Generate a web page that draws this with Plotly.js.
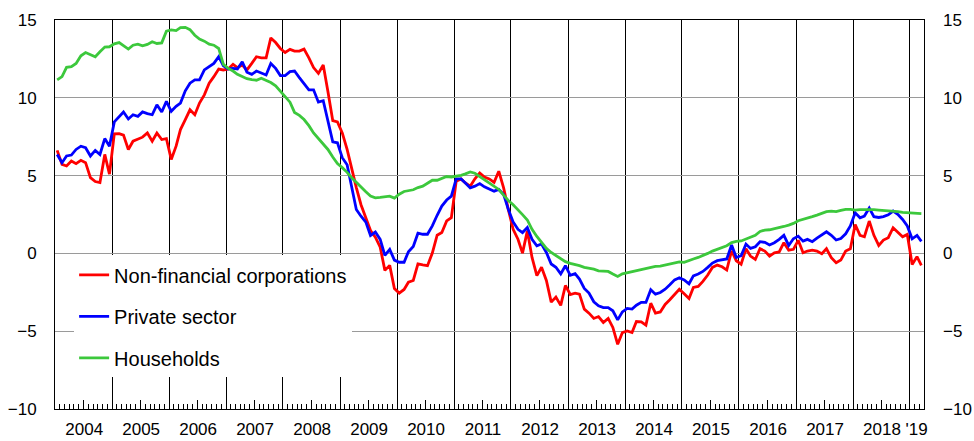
<!DOCTYPE html>
<html>
<head>
<meta charset="utf-8">
<script src="https://cdn.plot.ly/plotly-3.0.1.min.js"></script>
<style>html,body{margin:0;padding:0;background:#fff;}#chart{width:974px;height:441px;}</style>
</head>
<body>
<div id="chart"></div>
<script>
// Monthly data, Jan 2004 - Mar 2019 (percent, twelve-month growth)
const startYear = 2004;
const nonFinancial = [
  6.62, 5.72, 5.62, 5.94, 5.77, 5.98, 5.83, 4.87, 4.62, 4.55, 6.36, 5.09,
  7.68, 7.70, 7.60, 6.68, 7.21, 7.32, 7.47, 7.74, 7.21, 7.74, 7.32, 7.38,
  6.04, 6.89, 7.96, 8.60, 9.23, 8.91, 9.66, 10.19, 10.94, 11.36, 11.85, 11.79,
  11.85, 12.15, 11.94, 12.11, 11.79, 12.21, 12.64, 12.57, 12.57, 13.85, 13.55, 13.17,
  12.91, 13.11, 13.00, 13.00, 13.13, 12.57, 11.94, 11.57, 12.11, 10.40, 8.53, 8.45,
  7.74, 6.68, 5.47, 4.23, 3.13, 2.21, 1.47, 1.04, 0.40, -1.09, -0.77, -2.26,
  -2.55, -2.32, -1.85, -1.74, -0.68, -0.74, -0.79, 0.02, 1.17, 1.34, 2.09, 2.30,
  4.64, 4.79, 4.53, 4.32, 4.79, 5.17, 4.91, 4.79, 4.57, 5.28, 4.21, 2.83,
  1.55, 0.91, 0.02, 1.45, -0.26, -1.43, -0.89, -1.74, -3.13, -2.81, -3.34, -2.06,
  -2.64, -2.55, -2.62, -3.58, -3.84, -4.18, -4.06, -4.44, -4.18, -4.76, -5.84, -5.09,
  -4.98, -5.09, -4.38, -4.40, -4.61, -3.20, -3.84, -3.76, -3.28, -2.98, -2.62, -2.30,
  -2.60, -2.90, -2.19, -2.12, -1.80, -1.39, -0.90, -0.75, -0.86, -1.07, 0.17, -0.47,
  -0.70, 0.30, -0.17, -0.39, 0.30, 0.15, -0.17, 0.04, 0.09, 0.69, 0.21, 0.26,
  0.84, 0.04, 0.15, 0.21, 0.15, -0.02, 0.30, -0.28, -0.60, -0.43, 0.15, 0.30,
  1.86, 1.16, 1.07, 2.08, 1.16, 0.51, 0.86, 1.01, 1.65, 1.37, 1.07, 1.22,
  -0.71, -0.21, -0.77
];
const privateSector = [
  6.36, 5.83, 6.26, 6.32, 6.68, 6.89, 6.79, 6.26, 6.62, 6.36, 7.38, 6.89,
  8.45, 8.81, 9.09, 8.64, 8.91, 8.81, 9.09, 8.98, 8.91, 9.55, 9.09, 9.77,
  9.13, 9.45, 9.66, 10.45, 10.94, 11.15, 11.15, 11.79, 12.00, 12.21, 12.64, 12.06,
  11.85, 11.89, 11.85, 12.32, 11.64, 11.51, 11.72, 11.57, 11.47, 12.21, 11.89, 11.43,
  11.43, 11.68, 11.72, 11.30, 10.94, 10.51, 10.51, 9.72, 9.81, 8.49, 7.17, 7.11,
  6.15, 5.70, 4.42, 2.82, 2.39, 2.01, 1.15, 1.37, 0.90, -0.13, 0.26, -0.43,
  -0.57, -0.57, 0.11, 0.45, 1.30, 1.23, 1.23, 1.77, 2.45, 3.04, 3.43, 3.68,
  4.79, 4.79, 4.53, 4.21, 4.32, 4.49, 4.28, 4.15, 4.00, 4.11, 3.79, 2.83,
  2.02, 1.55, 1.34, 1.66, 0.91, 0.49, 0.60, 0.06, -0.68, -0.89, -1.32, -0.79,
  -1.41, -1.30, -1.65, -2.25, -2.55, -3.11, -3.37, -3.48, -3.48, -3.69, -4.27, -3.76,
  -3.54, -3.58, -3.33, -3.15, -3.15, -2.34, -2.62, -2.51, -2.30, -2.02, -1.70, -1.57,
  -1.70, -1.95, -1.44, -1.33, -1.16, -0.90, -0.62, -0.47, -0.41, -0.36, 0.54, -0.26,
  -0.15, 0.60, 0.32, 0.43, 0.75, 0.71, 0.54, 0.69, 0.90, 1.16, 0.51, 0.94,
  1.11, 0.79, 0.90, 0.75, 0.98, 1.18, 1.39, 1.16, 0.86, 0.96, 1.26, 1.76,
  2.61, 2.29, 2.40, 2.91, 2.36, 2.31, 2.36, 2.48, 2.72, 2.51, 2.18, 1.76,
  0.94, 1.16, 0.77
];
const households = [
  11.15, 11.36, 11.96, 12.00, 12.21, 12.70, 12.91, 12.79, 12.64, 12.96, 13.26, 13.28,
  13.47, 13.55, 13.34, 13.13, 13.38, 13.45, 13.34, 13.43, 13.60, 13.49, 13.53, 14.28,
  14.36, 14.32, 14.51, 14.53, 14.38, 14.02, 13.77, 13.64, 13.45, 13.38, 13.17, 12.15,
  11.89, 11.72, 11.51, 11.36, 11.23, 11.17, 11.13, 11.26, 11.11, 10.98, 10.77, 10.45,
  10.09, 9.72, 9.06, 8.87, 8.60, 8.21, 7.74, 7.38, 7.09, 6.68, 6.19, 5.77,
  5.51, 5.21, 4.87, 4.55, 4.23, 3.96, 3.68, 3.57, 3.60, 3.62, 3.68, 3.55,
  3.80, 3.98, 4.04, 4.09, 4.23, 4.32, 4.51, 4.70, 4.70, 4.83, 4.94, 4.91,
  4.96, 5.02, 5.11, 5.23, 5.15, 4.94, 4.77, 4.57, 4.36, 4.11, 3.74, 3.40,
  3.13, 2.83, 2.49, 2.15, 1.55, 1.09, 0.68, 0.32, 0.06, -0.15, -0.36, -0.53,
  -0.64, -0.71, -0.79, -0.90, -0.94, -1.01, -1.12, -1.12, -1.16, -1.33, -1.48, -1.31,
  -1.24, -1.18, -1.12, -1.07, -0.99, -0.90, -0.84, -0.82, -0.75, -0.69, -0.62, -0.54,
  -0.58, -0.49, -0.36, -0.26, -0.15, 0.00, 0.15, 0.26, 0.34, 0.49, 0.69, 0.77,
  0.80, 0.94, 1.07, 1.16, 1.41, 1.50, 1.52, 1.58, 1.67, 1.73, 1.82, 1.93,
  2.10, 2.18, 2.25, 2.36, 2.46, 2.57, 2.68, 2.72, 2.68, 2.76, 2.83, 2.83,
  2.78, 2.81, 2.81, 2.83, 2.81, 2.78, 2.76, 2.74, 2.72, 2.68, 2.63, 2.61,
  2.61, 2.59, 2.55
];
const seriesNames = ['Non-financial corporations', 'Private sector', 'Households'];
const yearLabels = ['2004','2005','2006','2007','2008','2009','2010','2011','2012','2013','2014','2015','2016','2017','2018',"'19"];
const yTicks = [-10, -5, 0, 5, 10, 15];

// month dates (mid-month)
const dates = [];
for (let i = 0; i < households.length; i++) {
  const y = startYear + Math.floor(i / 12);
  const m = (i % 12) + 1;
  dates.push(y + '-' + String(m).padStart(2, '0') + '-15');
}
const labelPos = yearLabels.map((t, i) => i < yearLabels.length - 1 ? (startYear + i) + '-07-06' : (startYear + i) + '-02-12');
const midYearTicks = yearLabels.slice(0, -1).map((t, i) => (startYear + i) + '-07-01');

const FONT = 'Liberation Sans, Arial, Helvetica, sans-serif';
const colors = ['#ff0000', '#0000ff', '#3cc83c'];
const data = [nonFinancial, privateSector, households].map((vals, i) => ({
  type: 'scatter', mode: 'lines', x: dates, y: vals, name: seriesNames[i],
  legendgroup: 'g' + i, line: {color: colors[i], width: 2.8}, xaxis: 'x', yaxis: 'y'
}));
// helper traces to activate secondary axes (no visible marks)
data.push({type: 'scatter', mode: 'lines', x: [dates[0]], y: [null], xaxis: 'x2', yaxis: 'y2', showlegend: false, hoverinfo: 'skip'});
data.push({type: 'scatter', mode: 'lines', x: [dates[0]], y: [null], xaxis: 'x3', yaxis: 'y', showlegend: false, hoverinfo: 'skip'});

const xRange = ['2004-01-01', '2019-04-01'];
const layout = {
  width: 974, height: 441,
  margin: {l: 55, r: 50, t: 20, b: 32, pad: 0},
  paper_bgcolor: '#ffffff', plot_bgcolor: '#ffffff',
  font: {family: FONT, size: 17, color: '#000'},
  showlegend: true,
  legend: {
    x: 0.022, xanchor: 'left', y: 0.395, yanchor: 'top',
    bgcolor: '#ffffff', borderwidth: 0,
    font: {family: FONT, size: 20, color: '#000'},
    tracegroupgap: 12.5, itemwidth: 30, traceorder: 'grouped'
  },
  xaxis: {
    type: 'date', range: xRange, showgrid: true, gridcolor: '#000', gridwidth: 1,
    tick0: '2004-01-01', dtick: 'M12', ticks: '', showticklabels: false,
    showline: true, linecolor: '#000', linewidth: 1, mirror: true, zeroline: false,
    minor: {dtick: 'M1', tick0: '2004-01-01', ticks: 'inside', ticklen: 5, tickcolor: '#000', tickwidth: 1, showgrid: false}
  },
  xaxis2: {
    type: 'date', range: xRange, overlaying: 'x', anchor: 'y', side: 'bottom',
    tickmode: 'array', tickvals: midYearTicks, ticks: 'inside', ticklen: 9, tickcolor: '#000', tickwidth: 1,
    showticklabels: false, showgrid: false, showline: false, zeroline: false
  },
  xaxis3: {
    type: 'date', range: xRange, overlaying: 'x', anchor: 'y', side: 'bottom',
    tickmode: 'array', tickvals: labelPos, ticktext: yearLabels, ticks: '', tickangle: 0,
    showgrid: false, showline: false, zeroline: false, ticklabelstandoff: 8,
    tickfont: {family: FONT, size: 17, color: '#000'}
  },
  yaxis: {
    range: [-10, 15], tickmode: 'array', tickvals: yTicks, ticks: '',
    showgrid: true, gridcolor: '#9a9a9a', gridwidth: 1, zeroline: false,
    showline: true, linecolor: '#000', linewidth: 1, mirror: true,
    ticklabelstandoff: 14, tickfont: {family: FONT, size: 17, color: '#000'}
  },
  yaxis2: {
    range: [-10, 15], overlaying: 'y', side: 'right', anchor: 'x',
    tickmode: 'array', tickvals: yTicks, ticks: '', showgrid: false, zeroline: false, showline: false,
    ticklabelstandoff: 18, tickfont: {family: FONT, size: 17, color: '#000'}
  }
};
Plotly.newPlot('chart', data, layout, {displayModeBar: false, staticPlot: true});
</script>
</body>
</html>
